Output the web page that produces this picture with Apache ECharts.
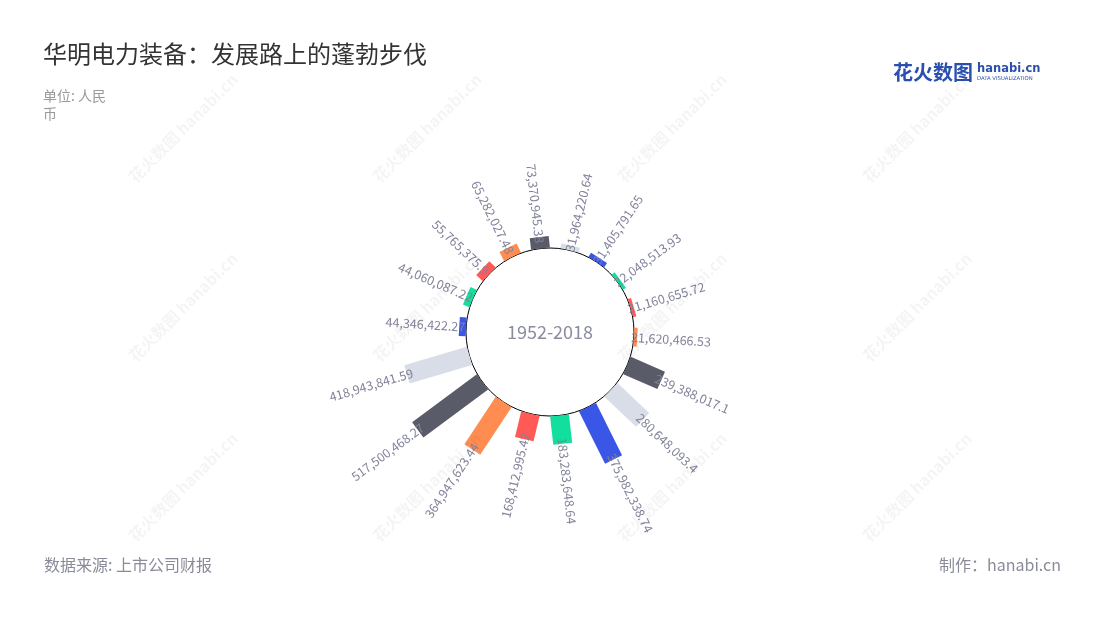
<!DOCTYPE html>
<html><head><meta charset="utf-8">
<script src="https://cdn.jsdelivr.net/npm/echarts@6/dist/echarts.min.js"></script>
<style>html,body{margin:0;padding:0;background:#fff}#c{width:1100px;height:620px}</style>
</head><body><div id="c"></div>
<script>
// ---- data ----
const categories = ['1','2','3','4','5','6','7','8','9','10','11','12','13','14','15','16','17','18'];
const values = [73370945.38, 31964220.64, 31405791.65, 22048513.93, 21160655.72, 21620466.53,
  239388017.1, 280648093.4, 375982338.74, 183283648.64, 168412995.42, 364947623.44,
  517500468.27, 418943841.59, 44346422.27, 44060087.22, 55765375.9, 65282027.48];
const centerLabel = '1952-2018';
const titleText = '华明电力装备：发展路上的蓬勃步伐';
const unitText = '单位: 人民\n币';
const sourceText = '数据来源: 上市公司财报';
const creditText = '制作：hanabi.cn';

// ---- styles ----
const palette = ['#5a5b68', '#d9dde8', '#3a56e6', '#12de9e', '#ff5a56', '#ff8d52'];
const labelColor = '#82839a';
const FONT = '"Noto Sans CJK SC","Noto Sans",sans-serif';
const CX = 550, CY = 332, R0 = 84, R1 = 164.5;
const radMax = Math.max.apply(null, values);

function fmt(v) {
  const s = String(v).split('.');
  s[0] = s[0].replace(/\B(?=(\d{3})+(?!\d))/g, ',');
  return s.join('.');
}

const chart = echarts.init(document.getElementById('c'));

const graphics = [
  { type: 'circle', shape: { cx: CX, cy: CY, r: R0 }, style: { fill: '#fff', stroke: '#000', lineWidth: 1 }, z: 1 },
  { type: 'text', x: CX, y: CY, z: 5, style: { text: centerLabel, fill: '#8a8b9f', fontSize: 18, fontFamily: FONT, align: 'center', verticalAlign: 'middle' } },
  // logo
  { type: 'text', x: 893, y: 72, style: { text: '花火数图', fill: '#2b4fae', fontSize: 20, fontWeight: 'bold', fontFamily: FONT, verticalAlign: 'middle' } },
  { type: 'text', x: 977, y: 69, style: { text: 'hanabi.cn', fill: '#2b4fae', fontSize: 11.5, fontWeight: 'bold', fontFamily: '"DejaVu Sans",sans-serif', verticalAlign: 'middle' } },
  { type: 'text', x: 977, y: 79, style: { text: 'DATA VISUALIZATION', fill: '#2b4fae', fontSize: 5.3, fontFamily: '"DejaVu Sans",sans-serif', verticalAlign: 'middle' } }
];
const wmX = [183, 427, 672, 917], wmY = [128, 307, 487];
wmY.forEach(function (y) {
  wmX.forEach(function (x) {
    graphics.push({ type: 'text', x: x, y: y, rotation: Math.PI / 4, z: 50, silent: true,
      style: { text: '花火数图 hanabi.cn', fill: 'rgba(0,0,0,0.045)', fontSize: 16, fontWeight: 'bold', fontFamily: FONT, align: 'center', verticalAlign: 'middle' } });
  });
});

chart.setOption({
  backgroundColor: '#fff',
  animation: false,
  title: [
    { text: titleText, left: 43, top: 42, padding: 0, textStyle: { fontSize: 24, fontWeight: 'normal', color: '#333', fontFamily: FONT } },
    { text: unitText, left: 43, top: 87, padding: 0, textStyle: { fontSize: 14, fontWeight: 'normal', color: '#999', lineHeight: 18, fontFamily: FONT } },
    { text: sourceText, left: 44, top: 557, padding: 0, textStyle: { fontSize: 16, fontWeight: 'normal', color: '#8a8b99', fontFamily: FONT } },
    { text: creditText, right: 39, top: 557, padding: 0, textStyle: { fontSize: 16, fontWeight: 'normal', color: '#8a8b99', fontFamily: FONT } }
  ],
  polar: { center: [CX, CY], radius: [R0, R1] },
  angleAxis: { type: 'category', data: categories, startAngle: 106.5, clockwise: true, show: false },
  radiusAxis: { type: 'value', min: 0, max: radMax, show: false },
  graphic: graphics,
  series: [{
    type: 'custom',
    coordinateSystem: 'polar',
    z: 3,
    data: values.map(function (v, i) { return [v, categories[i]]; }),
    renderItem: function (params, api) {
      const idx = api.value(1);
      const v = api.value(0);
      const p0 = api.coord([0, idx]);
      const p1 = api.coord([v, idx]);
      const pm = api.coord([radMax, idx]);
      let dx = pm[0] - p0[0], dy = pm[1] - p0[1];
      const L = Math.hypot(dx, dy); dx /= L; dy /= L;
      const hw = 9.5;
      const px = -dy * hw, py = dx * hw;
      const pts = [[p0[0] + px, p0[1] + py], [p1[0] + px, p1[1] + py], [p1[0] - px, p1[1] - py], [p0[0] - px, p0[1] - py]];
      const theta = Math.atan2(-dy, dx);
      const right = dx >= 0;
      const color = palette[params.dataIndex % palette.length];
      return {
        type: 'group',
        children: [
          { type: 'polygon', shape: { points: pts }, style: { fill: color } },
          { type: 'text', x: p1[0] - dx * 6, y: p1[1] - dy * 6, rotation: right ? theta : theta - Math.PI, z2: 10,
            style: { text: fmt(values[params.dataIndex]), fill: labelColor, fontSize: 12.5, fontFamily: FONT,
              align: right ? 'left' : 'right', verticalAlign: 'middle' } }
        ]
      };
    }
  }]
});
</script></body></html>
